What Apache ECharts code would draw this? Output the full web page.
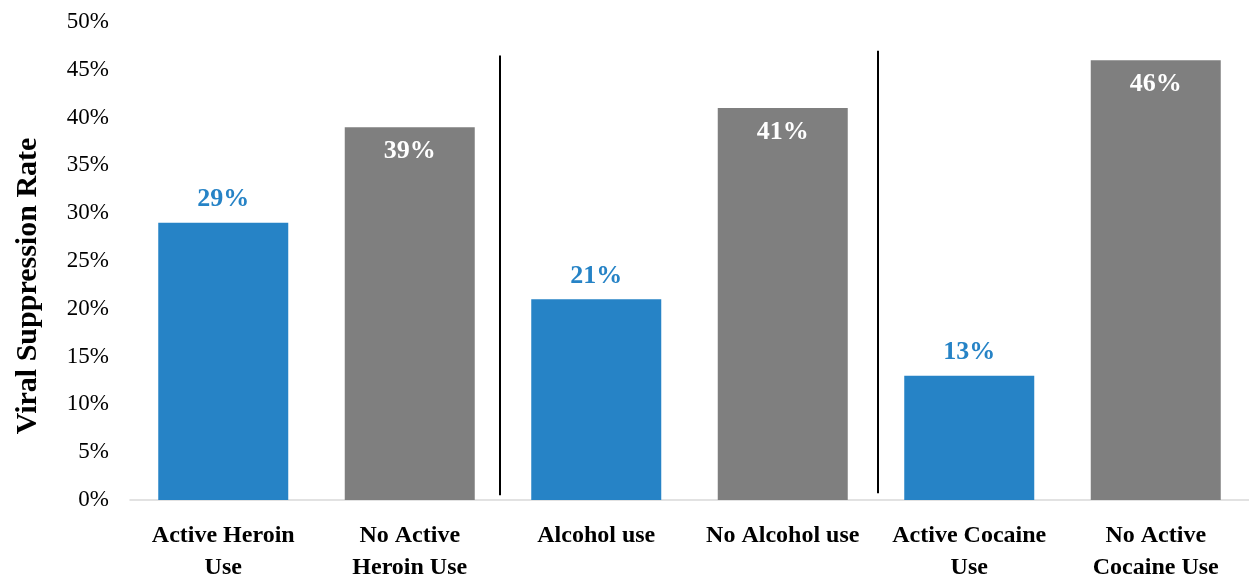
<!DOCTYPE html>
<html>
<head>
<meta charset="utf-8">
<script src="https://cdn.jsdelivr.net/npm/echarts@6/dist/echarts.min.js"></script>
<style>html,body{margin:0;padding:0;background:#fff}#c{width:1249px;height:577px}</style>
</head>
<body>
<div id="c"></div>
<script>
const categories = ['Active Heroin\nUse', 'No Active\nHeroin Use', 'Alcohol use', 'No Alcohol use', 'Active Cocaine\nUse', 'No Active\nCocaine Use'];
const values = [29, 39, 21, 41, 13, 46];
const groups = ['active', 'none', 'active', 'none', 'active', 'none'];
const yTicks = [0, 5, 10, 15, 20, 25, 30, 35, 40, 45, 50];
const separators = [
  { x: 1.98, from: 0.5, to: 46.5 },
  { x: 4.01, from: 0.7, to: 47.0 }
];
const yAxisTitle = 'Viral Suppression Rate';

const BLUE = '#2683C6', GRAY = '#7F7F7F';
const serif = '"Liberation Serif", "DejaVu Serif", serif';

const chart = echarts.init(document.getElementById('c'));
chart.setOption({
  animation: false,
  grid: { left: 130, right: 0, top: 22, bottom: 77, containLabel: false, outerBoundsMode: 'none' },
  xAxis: [{
    type: 'category', data: categories,
    axisLine: { show: true, lineStyle: { color: '#D9D9D9', width: 1.5 } },
    axisTick: { show: false },
    axisLabel: { interval: 0, margin: 20, fontFamily: serif, fontWeight: 'bold', fontSize: 24, color: '#000', lineHeight: 32 }
  }, {
    type: 'value', min: 0, max: 6, show: false
  }],
  yAxis: {
    type: 'value', min: yTicks[0], max: yTicks[yTicks.length - 1], interval: yTicks[1] - yTicks[0],
    splitLine: { show: false },
    axisLine: { show: false }, axisTick: { show: false },
    axisLabel: { formatter: v => v + '%', fontFamily: serif, fontSize: 23, color: '#000', margin: 21 }
  },
  graphic: [{
    type: 'text', x: 28, y: 286, rotation: Math.PI / 2,
    style: { text: yAxisTitle, font: 'bold 30px ' + serif, fill: '#000', align: 'center', verticalAlign: 'middle' }
  }],
  series: [{
    type: 'bar', barWidth: 130,
    data: values.map((v, i) => ({
      value: v,
      itemStyle: { color: groups[i] === 'active' ? BLUE : GRAY },
      label: groups[i] === 'active'
        ? { show: true, position: 'top', distance: 10, color: BLUE }
        : { show: true, position: 'insideTop', distance: 11, color: '#fff' }
    })),
    label: { formatter: p => p.value + '%', fontFamily: serif, fontWeight: 'bold', fontSize: 26 }
  }, {
    type: 'line', xAxisIndex: 1, data: [], silent: true,
    markLine: {
      symbol: 'none', silent: true, label: { show: false },
      lineStyle: { color: '#000', width: 2, type: 'solid' },
      data: separators.map(s => [{ coord: [s.x, s.from] }, { coord: [s.x, s.to] }])
    }
  }]
});
</script>
</body>
</html>
